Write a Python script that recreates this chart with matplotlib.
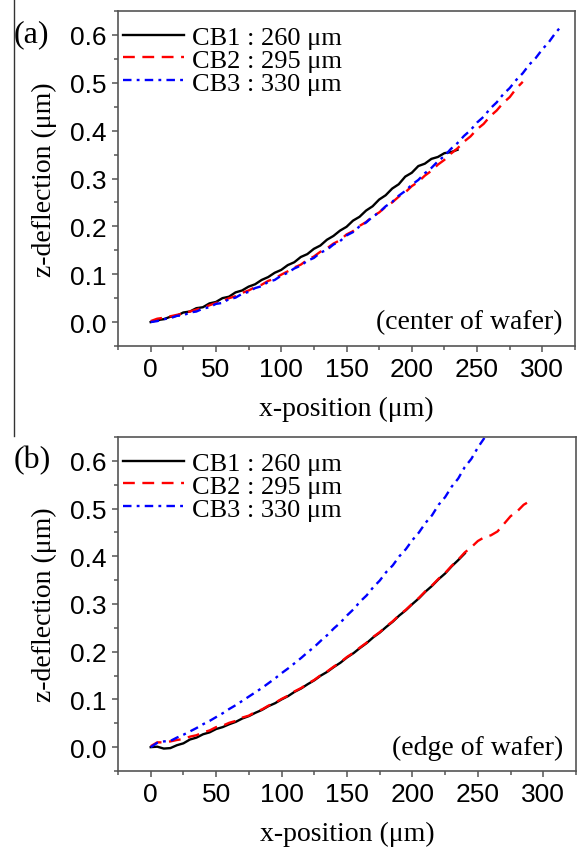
import matplotlib

matplotlib.use("Agg")
import matplotlib.pyplot as plt
from matplotlib.lines import Line2D
from matplotlib.ticker import MultipleLocator

SERIF = "Liberation Serif"
SANS = "Liberation Sans"

LABELS = ["CB1 : 260 μm", "CB2 : 295 μm", "CB3 : 330 μm"]
COLORS = ["#000000", "#ff0000", "#0000ff"]
STYLES = ["-", (0, (5.0, 3.2)), (0, (3.6, 2.2, 1.2, 2.2))]

# (a) center of wafer
A_CB1_X = list(range(0, 240, 5))
A_CB1_Y = [0.000, 0.004, 0.006, 0.011, 0.013, 0.020, 0.022, 0.029, 0.031, 0.039,
           0.042, 0.050, 0.053, 0.062, 0.066, 0.074, 0.079, 0.088, 0.094, 0.103,
           0.109, 0.119, 0.125, 0.136, 0.142, 0.153, 0.160, 0.172, 0.180, 0.191,
           0.199, 0.212, 0.220, 0.233, 0.242, 0.256, 0.265, 0.279, 0.288, 0.304,
           0.312, 0.326, 0.331, 0.341, 0.345, 0.353, 0.355, 0.360]
A_CB2_X = list(range(0, 290, 5))
A_CB2_Y = [0.002, 0.007, 0.009, 0.012, 0.015, 0.018, 0.022, 0.026, 0.030, 0.035,
           0.040, 0.044, 0.050, 0.054, 0.061, 0.066, 0.073, 0.078, 0.086, 0.091,
           0.099, 0.106, 0.114, 0.120, 0.130, 0.137, 0.147, 0.154, 0.164, 0.171,
           0.183, 0.190, 0.201, 0.209, 0.221, 0.229, 0.241, 0.250, 0.262, 0.271,
           0.284, 0.293, 0.306, 0.316, 0.329, 0.339, 0.352, 0.363, 0.377, 0.388,
           0.403, 0.414, 0.430, 0.442, 0.458, 0.470, 0.488, 0.502]
A_CB3_X = list(range(0, 320, 5))
A_CB3_Y = [0.000, 0.002, 0.006, 0.008, 0.013, 0.014, 0.020, 0.022, 0.028, 0.031,
           0.038, 0.040, 0.048, 0.051, 0.059, 0.063, 0.071, 0.075, 0.084, 0.088,
           0.097, 0.103, 0.112, 0.118, 0.128, 0.134, 0.145, 0.151, 0.162, 0.169,
           0.181, 0.188, 0.200, 0.208, 0.220, 0.229, 0.242, 0.251, 0.264, 0.274,
           0.287, 0.297, 0.311, 0.322, 0.336, 0.347, 0.362, 0.374, 0.389, 0.401,
           0.417, 0.429, 0.446, 0.459, 0.476, 0.489, 0.506, 0.520, 0.538, 0.552,
           0.570, 0.585, 0.604, 0.620]

# (b) edge of wafer
B_CB1_X = list(range(0, 245, 5))
B_CB1_Y = [0.000, 0.001, -0.003, -0.002, 0.004, 0.008, 0.016, 0.020, 0.027, 0.031,
           0.038, 0.042, 0.048, 0.053, 0.060, 0.065, 0.072, 0.078, 0.086, 0.092,
           0.100, 0.107, 0.116, 0.123, 0.132, 0.140, 0.150, 0.158, 0.168, 0.177,
           0.188, 0.197, 0.208, 0.218, 0.230, 0.240, 0.252, 0.263, 0.276, 0.287,
           0.300, 0.312, 0.326, 0.338, 0.352, 0.364, 0.379, 0.392, 0.406]
B_CB2_X = list(range(0, 295, 5))
B_CB2_Y = [0.002, 0.010, 0.010, 0.012, 0.015, 0.017, 0.022, 0.025, 0.031, 0.035,
           0.042, 0.045, 0.051, 0.055, 0.062, 0.066, 0.074, 0.079, 0.087, 0.093,
           0.101, 0.108, 0.117, 0.124, 0.133, 0.141, 0.151, 0.159, 0.169, 0.178,
           0.189, 0.198, 0.209, 0.219, 0.231, 0.241, 0.253, 0.264, 0.277, 0.288,
           0.301, 0.313, 0.327, 0.339, 0.353, 0.365, 0.380, 0.393, 0.408, 0.419,
           0.432, 0.440, 0.444, 0.452, 0.468, 0.484, 0.494, 0.508, 0.516]
B_CB3_X = list(range(0, 260, 5))
B_CB3_Y = [0.000, 0.009, 0.012, 0.013, 0.020, 0.026, 0.033, 0.040, 0.048, 0.055,
           0.063, 0.071, 0.080, 0.088, 0.097, 0.106, 0.115, 0.124, 0.134, 0.144,
           0.155, 0.165, 0.176, 0.187, 0.199, 0.210, 0.223, 0.235, 0.249, 0.261,
           0.276, 0.289, 0.305, 0.318, 0.335, 0.349, 0.367, 0.381, 0.400, 0.415,
           0.434, 0.450, 0.470, 0.486, 0.508, 0.524, 0.546, 0.563, 0.587, 0.604,
           0.628, 0.648]

PANELS = [
    ("(a)", "(center of wafer)",
     [(A_CB1_X, A_CB1_Y), (A_CB2_X, A_CB2_Y), (A_CB3_X, A_CB3_Y)]),
    ("(b)", "(edge of wafer)",
     [(B_CB1_X, B_CB1_Y), (B_CB2_X, B_CB2_Y), (B_CB3_X, B_CB3_Y)]),
]

W, H = 581, 853
AXES_PX = [(118, 12, 575, 347), (118, 438, 576, 772)]  # left, top, right, bottom
SPINE = "#555555"

fig = plt.figure(figsize=(W / 100, H / 100), dpi=100)

for (tag, note, series), (l, t, r, b) in zip(PANELS, AXES_PX):
    ax = fig.add_axes([l / W, 1 - b / H, (r - l) / W, (b - t) / H])
    for (xs, ys), color, style, label in zip(series, COLORS, STYLES, LABELS):
        ax.plot(xs, ys, color=color, linestyle=style, linewidth=1.7, label=label)

    ax.set_xlim(-25, 325)
    ax.set_ylim(-0.05, 0.65)
    ax.xaxis.set_major_locator(MultipleLocator(50))
    ax.xaxis.set_minor_locator(MultipleLocator(25))
    ax.yaxis.set_major_locator(MultipleLocator(0.1))
    ax.yaxis.set_minor_locator(MultipleLocator(0.05))
    ax.yaxis.set_major_formatter(lambda v, _: f"{v:.1f}")
    ax.tick_params(which="both", direction="out", color=SPINE, width=1.1,
                   top=False, right=False)
    ax.tick_params(which="major", length=4.5, pad=3.5, labelsize=19)
    ax.tick_params(which="minor", length=3)
    for lab in ax.get_xticklabels() + ax.get_yticklabels():
        lab.set_fontfamily(SANS)
    for sp in ax.spines.values():
        sp.set_color(SPINE)
        sp.set_linewidth(1.2)

    ax.set_xlabel("x-position (μm)", family=SERIF, fontsize=20)
    ax.set_ylabel("z-deflection (μm)", family=SERIF, fontsize=20)
    ax.xaxis.label.set_verticalalignment("center")
    ax.yaxis.label.set_verticalalignment("center")
    ax.xaxis.set_label_coords(0.5, -62 / (b - t))
    ax.yaxis.set_label_coords((44 - l) / (r - l), 0.5)

    ax.legend(loc="upper left", bbox_to_anchor=(0.0, 1 - 9 / (b - t)),
              frameon=False, prop={"family": SERIF, "size": 19},
              handlelength=2.3, handletextpad=0.3, labelspacing=-0.02,
              borderaxespad=0.0, borderpad=0.2)
    ax.text(0.972, 0.072, note, transform=ax.transAxes, ha="right", va="center",
            family=SERIF, fontsize=20)
    fig.text(14 / W, 1 - (t + 23) / H, tag, ha="left", va="center",
             family=SERIF, fontsize=23)

fig.add_artist(Line2D([13.5 / W, 13.5 / W], [1.0, 1 - 437 / H],
                      transform=fig.transFigure, color="#333333", linewidth=1.0))

fig.savefig("out.png", dpi=100)
